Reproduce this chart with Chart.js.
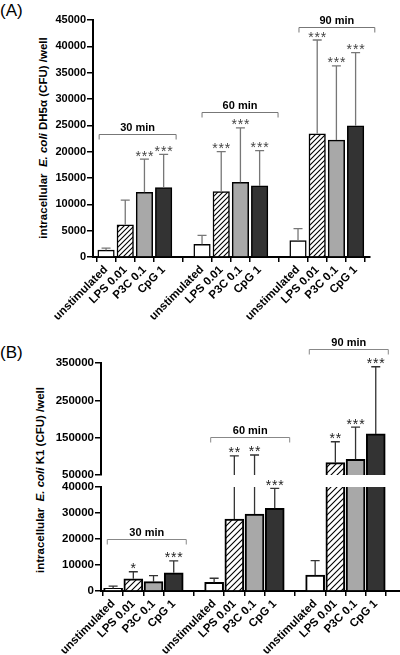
<!DOCTYPE html>
<html>
<head>
<meta charset="utf-8">
<script src="https://cdn.jsdelivr.net/npm/chart.js@4"></script>
<style>
  body { margin: 0; background: #fff; }
  #wrap { position: relative; width: 400px; height: 655px; overflow: hidden; font-family: "Liberation Sans", Arial, sans-serif; }
  canvas { position: absolute; left: 0; }
  .panel { position: absolute; left: 0; font-size: 17px; line-height: 20px; }
  .ytitle { position: absolute; font-weight: bold; font-size: 11.5px; white-space: nowrap; transform: translate(-50%, -50%) rotate(-90deg); }
</style>
</head>
<body>
<div id="wrap">
  <div class="panel" style="top:1px">(A)</div>
  <div class="ytitle" style="left:43px; top:138px">intracellular&nbsp; <i>E. coli</i> DH5α (CFU) /well</div>
  <canvas id="chartA" width="400" height="320" style="top:0"></canvas>

  <div class="panel" style="top:343px">(B)</div>
  <div class="ytitle" style="left:40px; top:480px">intracellular&nbsp; <i>E. coli</i> K1 (CFU) /well</div>
  <canvas id="chartBTop" width="400" height="170" style="top:320px"></canvas>
  <canvas id="chartBBot" width="400" height="185" style="top:470px"></canvas>
</div>

<script>
// --- DATA ---
const treatments = ['unstimulated', 'LPS 0.01', 'P3C 0.1', 'CpG 1'];
const times = ['30 min', '60 min', '90 min'];

// (A) E. coli DH5a, mean and upper error (SD), 30 / 60 / 90 min
const meanA = [1300, 6100, 12300, 13200, 2400, 12400, 14200, 13500, 3100, 23400, 22200, 24900];
const sdA = [400, 4700, 6300, 6300, 1700, 7600, 10300, 6700, 2300, 17800, 14100, 13900];
const starsA = ['', '', '***', '***', '', '***', '***', '***', '', '***', '***', '***'];
const yTicksA = [0, 5000, 10000, 15000, 20000, 25000, 30000, 35000, 40000, 45000];
const bracketLevelA = [23400, 27500, 43700];

// (B) E. coli K1
const meanB = [1000, 4700, 3600, 7000, 3300, 27700, 29600, 31800, 6100, 83000, 92000, 160000];
const sdB = [900, 2700, 2300, 4600, 1600, 73300, 74000, 7700, 5600, 56000, 86000, 180000];
const starsB = ['', '*', '', '***', '', '**', '**', '***', '', '**', '***', '***'];
const yTicksBTop = [50000, 150000, 250000, 350000];
const yTicksBBot = [0, 10000, 20000, 30000, 40000];
const bracketLevelB = [19900, 152600, 386700];

// hatch for LPS bars
function hatch(step) {
  const c = document.createElement('canvas');
  c.width = step; c.height = step;
  const g = c.getContext('2d');
  g.fillStyle = '#fff';
  g.fillRect(0, 0, step, step);
  g.strokeStyle = '#000';
  g.lineWidth = 1.1;
  g.beginPath();
  g.moveTo(0, step); g.lineTo(step, 0);
  g.moveTo(-1, 1); g.lineTo(1, -1);
  g.moveTo(step - 1, step + 1); g.lineTo(step + 1, step - 1);
  g.stroke();
  return g.createPattern(c, 'repeat');
}

const slotOf = i => i + Math.floor(i / 4);

// error bars, stars and time brackets
const decor = {
  id: 'decor',
  afterDatasetsDraw(chart, args, o) {
    const { ctx, chartArea: a, scales: { x, y } } = chart;
    const pts = chart.data.datasets[0].data;
    pts.forEach((p, i) => {
      const top = p.y + o.sd[i];
      const px = x.getPixelForValue(p.x);
      const py = y.getPixelForValue(top);
      const capOn = top >= y.min && top <= y.max;
      ctx.save();
      ctx.beginPath();
      ctx.rect(a.left, a.top, a.right - a.left, a.bottom - a.top);
      ctx.clip();
      ctx.strokeStyle = o.errColor;
      ctx.lineWidth = 1.3;
      ctx.beginPath();
      ctx.moveTo(px, y.getPixelForValue(p.y));
      ctx.lineTo(px, py);
      if (capOn) { ctx.moveTo(px - 4.5, py); ctx.lineTo(px + 4.5, py); }
      ctx.stroke();
      ctx.restore();
      if (capOn && o.stars[i]) {
        const n = o.stars[i].length, sp = 6.3;
        ctx.save();
        ctx.fillStyle = o.starColor;
        ctx.font = '14px "Liberation Sans", Arial';
        ctx.textAlign = 'center';
        ctx.textBaseline = 'alphabetic';
        for (let k = 0; k < n; k++) ctx.fillText('*', px + (k - (n - 1) / 2) * sp, py + 1.5);
        ctx.restore();
      }
    });
    o.brackets.forEach(b => {
      const x1 = x.getPixelForValue(b.from), x2 = x.getPixelForValue(b.to);
      const by = Math.round(y.getPixelForValue(b.level)) + 0.5;
      ctx.save();
      ctx.strokeStyle = o.bracketColor;
      ctx.lineWidth = 1;
      ctx.beginPath();
      ctx.moveTo(x1, by + 5); ctx.lineTo(x1, by); ctx.lineTo(x2, by); ctx.lineTo(x2, by + 5);
      ctx.stroke();
      ctx.fillStyle = '#000';
      ctx.font = 'bold 11px "Liberation Sans", Arial';
      ctx.textAlign = 'center';
      ctx.textBaseline = 'alphabetic';
      ctx.fillText(b.label, (x1 + x2) / 2, by - 4);
      ctx.restore();
    });
  }
};

function makeChart(id, o) {
  const fills = ['#ffffff', hatch(o.hatch), '#a8a8a8', '#333333'];
  const slots = o.mean.map((v, i) => slotOf(i));
  return new Chart(document.getElementById(id), {
    type: 'bar',
    data: {
      datasets: [{
        data: o.mean.map((v, i) => ({ x: slots[i], y: v })),
        backgroundColor: o.mean.map((v, i) => fills[i % 4]),
        borderColor: '#000',
        borderWidth: o.bw,
        borderSkipped: o.skip,
        barThickness: o.bar,
        clip: 0
      }]
    },
    plugins: [decor],
    options: {
      responsive: false,
      animation: false,
      devicePixelRatio: 1,
      layout: { padding: o.pad },
      plugins: {
        legend: { display: false },
        tooltip: { enabled: false },
        decor: { sd: o.sd, stars: o.stars, brackets: o.brackets, errColor: o.errColor, starColor: o.starColor, bracketColor: o.bracketColor }
      },
      scales: {
        x: {
          type: 'linear',
          display: o.showX,
          bounds: 'data',
          min: o.xMin, max: o.xMax,
          offset: false,
          afterBuildTicks: s => { s.ticks = slots.map(v => ({ value: v })); },
          afterFit: s => { s.height = o.xh; s.paddingLeft = 0; s.paddingRight = 0; },
          ticks: {
            autoSkip: false, minRotation: 45, maxRotation: 45, padding: 1,
            color: '#000', font: { family: '"Liberation Sans", Arial', weight: 'bold', size: 11.5 },
            callback: (v, i) => treatments[i % 4]
          },
          grid: { drawOnChartArea: false, drawTicks: true, tickLength: 5, color: '#000', lineWidth: 1.5 },
          border: { display: true, color: '#000', width: 2 }
        },
        y: {
          bounds: 'data',
          min: o.yTicks[0], max: o.yTicks[o.yTicks.length - 1],
          afterBuildTicks: s => { s.ticks = o.yTicks.map(v => ({ value: v })); },
          afterFit: s => { s.width = o.yw; s.paddingTop = 0; s.paddingBottom = 0; },
          ticks: {
            padding: 1, color: '#000',
            font: { family: '"Liberation Sans", Arial', weight: 'bold', size: o.yFont },
            callback: v => String(v)
          },
          grid: { drawOnChartArea: false, drawTicks: true, tickLength: 6, color: '#000', lineWidth: 1.5 },
          border: { display: true, color: '#000', width: 2 }
        }
      }
    }
  });
}

// --- PANEL A ---
makeChart('chartA', {
  mean: meanA, sd: sdA, stars: starsA, yTicks: yTicksA,
  xMin: -0.68, xMax: 13.75, yw: 93, xh: 63, showX: true,
  pad: { left: 0, top: 20, right: 30, bottom: 0 },
  bar: 16.5, bw: 1.5, skip: 'start', hatch: 5, yFont: 11,
  errColor: '#777', starColor: '#444', bracketColor: '#777',
  brackets: [
    { label: times[0], from: -0.36, to: 3.65, level: bracketLevelA[0] },
    { label: times[1], from: 5.0, to: 8.96, level: bracketLevelA[1] },
    { label: times[2], from: 10.05, to: 14.0, level: bracketLevelA[2] }
  ]
});

// --- PANEL B (broken axis: upper + lower segment) ---
const bCommon = {
  mean: meanB, sd: sdB, stars: starsB,
  xMin: -0.6, xMax: 14.2, yw: 101, bar: 19, bw: 2, hatch: 6, yFont: 11.5,
  errColor: '#333', starColor: '#222', bracketColor: '#888'
};
makeChart('chartBTop', Object.assign({}, bCommon, {
  yTicks: yTicksBTop, xh: 0, showX: false, skip: false,
  pad: { left: 0, top: 43, right: 0, bottom: 15 },
  brackets: [
    { label: times[1], from: 4.83, to: 8.74, level: bracketLevelB[1] },
    { label: times[2], from: 9.71, to: 13.62, level: bracketLevelB[2] }
  ]
}));
makeChart('chartBBot', Object.assign({}, bCommon, {
  yTicks: yTicksBBot, xh: 64, showX: true, skip: 'start',
  pad: { left: 0, top: 17, right: 0, bottom: 0 },
  brackets: [
    { label: times[0], from: -0.29, to: 3.62, level: bracketLevelB[0] }
  ]
}));
</script>
</body>
</html>
